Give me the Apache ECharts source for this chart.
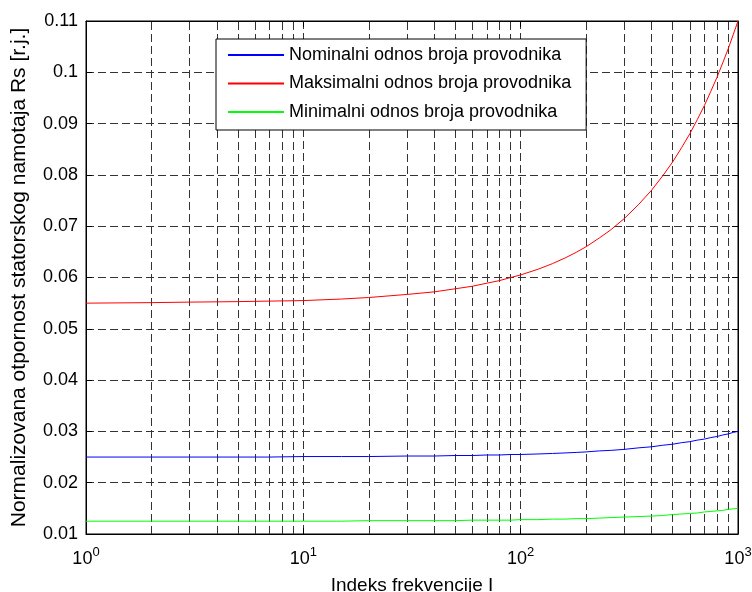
<!DOCTYPE html>
<html>
<head>
<meta charset="utf-8">
<script src="https://cdn.jsdelivr.net/npm/echarts@6/dist/echarts.min.js"></script>
<style>html,body{margin:0;padding:0;background:#fff}#c{width:752px;height:592px}</style>
</head>
<body>
<div id="c"></div>
<script>
// Frequency index values (x, log scale)
const freq = [1, 2, 3, 5, 7, 10, 15, 20, 30, 40, 50, 60, 70, 80, 90, 100,
  120, 140, 160, 180, 200, 230, 260, 300,
  350, 400, 450, 500, 550, 600, 650, 700, 750, 800, 850, 900, 950, 1000];
// Nominal ratio
const nominal = [0.0250, 0.0250, 0.0250, 0.0250, 0.0250, 0.0251, 0.0251, 0.0251, 0.0252, 0.0252, 0.0253, 0.0253, 0.0254, 0.0254, 0.0255, 0.0255,
  0.0256, 0.0257, 0.0258, 0.0259, 0.0260, 0.0262, 0.0263, 0.0265,
  0.0268, 0.0270, 0.0273, 0.0275, 0.0278, 0.0280, 0.0283, 0.0285, 0.0288, 0.0290, 0.0293, 0.0295, 0.0298, 0.0300];
// Maximal ratio
const maximal = [0.0550, 0.0551, 0.0552, 0.0553, 0.0554, 0.0555, 0.0558, 0.0561, 0.0567, 0.0572, 0.0578, 0.0583, 0.0589, 0.0594, 0.0600, 0.0605,
  0.0616, 0.0627, 0.0638, 0.0649, 0.0660, 0.0677, 0.0693, 0.0715,
  0.0743, 0.0770, 0.0798, 0.0825, 0.0853, 0.0880, 0.0908, 0.0935, 0.0963, 0.0990, 0.1018, 0.1045, 0.1073, 0.1100];
// Minimal ratio
const minimal = [0.0125, 0.0125, 0.0125, 0.0125, 0.0125, 0.0125, 0.0125, 0.0126, 0.0126, 0.0126, 0.0126, 0.0127, 0.0127, 0.0127, 0.0127, 0.0128,
  0.0128, 0.0129, 0.0129, 0.0130, 0.0130, 0.0131, 0.0132, 0.0133,
  0.0134, 0.0135, 0.0136, 0.0138, 0.0139, 0.0140, 0.0141, 0.0143, 0.0144, 0.0145, 0.0146, 0.0148, 0.0149, 0.0150];
// Minor log grid positions
const minorX = [2, 3, 4, 5, 6, 7, 8, 9, 20, 30, 40, 50, 60, 70, 80, 90, 200, 300, 400, 500, 600, 700, 800, 900];
const seriesNames = ['Nominalni odnos broja provodnika', 'Maksimalni odnos broja provodnika', 'Minimalni odnos broja provodnika'];

const FONT = 'Liberation Sans, Arial, Helvetica, sans-serif';
const dash = [8, 4];
const gridColor = '#333';

function pairs(ys) { return freq.map((f, i) => [f, ys[i]]); }

const chart = echarts.init(document.getElementById('c'), null, {renderer: 'canvas'});
chart.setOption({
  animation: false,
  backgroundColor: '#fff',
  textStyle: {fontFamily: FONT},
  grid: {left: 86, right: 14, top: 21, bottom: 58, show: true, borderColor: '#000', borderWidth: 1, backgroundColor: '#fff',
    containLabel: false, outerBoundsMode: 'none'},
  legend: {
    orient: 'vertical',
    left: 216, top: 39,
    padding: [7, 15, 9, 11],
    itemWidth: 56, itemHeight: 14, itemGap: 10.5,
    backgroundColor: '#fff',
    borderColor: '#000', borderWidth: 1,
    itemStyle: {opacity: 0},
    textStyle: {fontFamily: FONT, fontSize: 18, color: '#000'},
    data: seriesNames
  },
  xAxis: [{
    type: 'log', logBase: 10, min: 1, max: 1000,
    name: 'Indeks frekvencije I', nameLocation: 'middle', nameGap: 42,
    nameTextStyle: {fontFamily: FONT, fontSize: 19, color: '#000'},
    axisLine: {show: true, lineStyle: {color: '#000', width: 1}},
    axisTick: {show: true, inside: true, length: 6, lineStyle: {color: '#000'}},
    axisLabel: {
      margin: 12,
      formatter: function (v) { return '{b|10}{s|' + Math.round(Math.log10(v)) + '}'; },
      rich: {
        b: {fontFamily: FONT, fontSize: 18, color: '#000'},
        s: {fontFamily: FONT, fontSize: 13, color: '#000', padding: [0, 0, 14, 0]}
      }
    },
    splitLine: {show: true, lineStyle: {color: gridColor, type: dash, width: 1}}
  }, {
    type: 'log', logBase: 10, min: 1, max: 1000, position: 'top',
    axisLine: {show: true, lineStyle: {color: '#000'}},
    axisTick: {show: true, inside: true, length: 6, lineStyle: {color: '#000'}},
    axisLabel: {show: false}, splitLine: {show: false}
  }],
  yAxis: [{
    type: 'value', min: 0.01, max: 0.11, interval: 0.01,
    name: 'Normalizovana otpornost statorskog namotaja Rs [r.j.]',
    nameLocation: 'middle', nameGap: 56,
    nameTextStyle: {fontFamily: FONT, fontSize: 21, color: '#000'},
    axisLine: {show: true, lineStyle: {color: '#000', width: 1}},
    axisTick: {show: true, inside: true, length: 6, lineStyle: {color: '#000'}},
    axisLabel: {
      margin: 8, fontFamily: FONT, fontSize: 18, color: '#000',
      formatter: function (v) { return String(parseFloat(v.toFixed(3))); }
    },
    splitLine: {show: true, lineStyle: {color: gridColor, type: dash, width: 1}}
  }, {
    type: 'value', min: 0.01, max: 0.11, interval: 0.01, position: 'right',
    axisLine: {show: true, lineStyle: {color: '#000'}},
    axisTick: {show: true, inside: true, length: 6, lineStyle: {color: '#000'}},
    axisLabel: {show: false}, splitLine: {show: false}
  }],
  series: [
    {
      name: seriesNames[0], type: 'line', data: pairs(nominal), showSymbol: false, symbol: 'none',
      lineStyle: {color: '#0000ff', width: 1}, itemStyle: {color: '#0000ff'}, z: 5,
      markLine: {
        silent: true, symbol: ['none', 'none'], label: {show: false},
        lineStyle: {color: gridColor, type: dash, width: 1},
        data: minorX.map(x => ({xAxis: x})),
        z: 1
      }
    },
    {
      name: seriesNames[1], type: 'line', data: pairs(maximal), showSymbol: false, symbol: 'none',
      lineStyle: {color: '#ff0000', width: 1}, itemStyle: {color: '#ff0000'}, z: 5
    },
    {
      name: seriesNames[2], type: 'line', data: pairs(minimal), showSymbol: false, symbol: 'none',
      lineStyle: {color: '#00ff00', width: 1}, itemStyle: {color: '#00ff00'}, z: 5
    }
  ]
});
</script>
</body>
</html>
